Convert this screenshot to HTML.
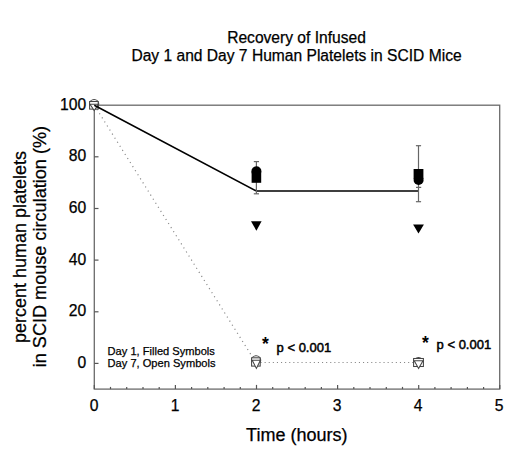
<!DOCTYPE html>
<html><head><meta charset="utf-8">
<style>
html,body{margin:0;padding:0;background:#fff;}
svg{display:block;}
text{font-family:"Liberation Sans",sans-serif;fill:#000;stroke:#000;stroke-width:0.25px;}
</style></head>
<body>
<svg width="520" height="456" viewBox="0 0 520 456">
<rect x="0" y="0" width="520" height="456" fill="#fff"/>
<!-- title -->
<text x="296.5" y="43.3" font-size="15.6" text-anchor="middle">Recovery of Infused</text>
<text x="296.5" y="60.9" font-size="15.6" text-anchor="middle">Day 1 and Day 7 Human Platelets in SCID Mice</text>

<!-- y label -->
<g transform="translate(26.0,247) rotate(-90)">
<text x="0" y="0" font-size="18" text-anchor="middle">percent human platelets</text>
</g>
<g transform="translate(46.3,246.6) rotate(-90)">
<text x="0" y="0" font-size="18.1" text-anchor="middle">in SCID mouse circulation (%)</text>
</g>

<!-- frame -->
<rect x="94.3" y="105.2" width="405.4" height="283.9" fill="none" stroke="#6a6a6a" stroke-width="1.3"/>

<!-- y ticks -->
<g stroke="#555" stroke-width="1.2">
<line x1="94.3" y1="105.2" x2="98.5" y2="105.2"/>
<line x1="94.3" y1="156.8" x2="98.5" y2="156.8"/>
<line x1="94.3" y1="208.5" x2="98.5" y2="208.5"/>
<line x1="94.3" y1="260.1" x2="98.5" y2="260.1"/>
<line x1="94.3" y1="311.8" x2="98.5" y2="311.8"/>
<line x1="94.3" y1="363.4" x2="98.5" y2="363.4"/>
</g>
<g font-size="15.7" text-anchor="end">
<text x="86.2" y="109.9">100</text>
<text x="86.2" y="161.4">80</text>
<text x="86.2" y="212.9">60</text>
<text x="86.2" y="264.6">40</text>
<text x="86.2" y="316.3">20</text>
<text x="86.2" y="367.9">0</text>
</g>

<!-- x ticks -->
<g stroke="#555" stroke-width="1.2">
<line x1="94.3" y1="389.1" x2="94.3" y2="384.9"/>
<line x1="110.5" y1="389.1" x2="110.5" y2="386.9"/>
<line x1="126.7" y1="389.1" x2="126.7" y2="386.9"/>
<line x1="143.0" y1="389.1" x2="143.0" y2="386.9"/>
<line x1="159.2" y1="389.1" x2="159.2" y2="386.9"/>
<line x1="175.4" y1="389.1" x2="175.4" y2="384.9"/>
<line x1="191.6" y1="389.1" x2="191.6" y2="386.9"/>
<line x1="207.8" y1="389.1" x2="207.8" y2="386.9"/>
<line x1="224.1" y1="389.1" x2="224.1" y2="386.9"/>
<line x1="240.3" y1="389.1" x2="240.3" y2="386.9"/>
<line x1="256.5" y1="389.1" x2="256.5" y2="384.9"/>
<line x1="272.7" y1="389.1" x2="272.7" y2="386.9"/>
<line x1="288.9" y1="389.1" x2="288.9" y2="386.9"/>
<line x1="305.2" y1="389.1" x2="305.2" y2="386.9"/>
<line x1="321.4" y1="389.1" x2="321.4" y2="386.9"/>
<line x1="337.6" y1="389.1" x2="337.6" y2="384.9"/>
<line x1="353.8" y1="389.1" x2="353.8" y2="386.9"/>
<line x1="370.0" y1="389.1" x2="370.0" y2="386.9"/>
<line x1="386.3" y1="389.1" x2="386.3" y2="386.9"/>
<line x1="402.5" y1="389.1" x2="402.5" y2="386.9"/>
<line x1="418.7" y1="389.1" x2="418.7" y2="384.9"/>
<line x1="434.9" y1="389.1" x2="434.9" y2="386.9"/>
<line x1="451.1" y1="389.1" x2="451.1" y2="386.9"/>
<line x1="467.4" y1="389.1" x2="467.4" y2="386.9"/>
<line x1="483.6" y1="389.1" x2="483.6" y2="386.9"/>
<line x1="499.8" y1="389.1" x2="499.8" y2="384.9"/>
</g>
<g font-size="15.7" text-anchor="middle">
<text x="94" y="411">0</text>
<text x="175" y="411">1</text>
<text x="256" y="411">2</text>
<text x="337" y="411">3</text>
<text x="418" y="411">4</text>
<text x="499" y="411">5</text>
</g>
<text x="296.8" y="441" font-size="18" text-anchor="middle">Time (hours)</text>

<!-- dotted line day 7 -->
<line x1="94.3" y1="105.2" x2="256.4" y2="363.4" stroke="#888" stroke-width="1.2" stroke-dasharray="1.1 3.7"/>
<line x1="256.4" y1="362.5" x2="418.4" y2="362.5" stroke="#888" stroke-width="1.2" stroke-dasharray="1.1 3"/>

<!-- open symbols -->
<g fill="#fff" stroke="#444" stroke-width="1.05">
<circle cx="94.1" cy="104.1" r="4.6"/>
<rect x="89.6" y="101.5" width="8.6" height="7.6"/>
<path d="M90,104.2 L98.4,104.2 L94.2,110.6 Z"/>
<circle cx="256.1" cy="360.3" r="4.6"/>
<rect x="251.6" y="357.8" width="8.6" height="8.3"/>
<path d="M252.2,360.3 L260.4,360.3 L256.4,368.4 Z"/>
<circle cx="418.5" cy="362" r="4.6"/>
<rect x="413.6" y="358.5" width="9.8" height="8"/>
<path d="M414.2,360.8 L423,360.8 L418.6,368.5 Z"/>
</g>

<!-- solid line day 1 -->
<polyline points="94.3,105.2 256.4,191 418.6,191" fill="none" stroke="#000" stroke-width="1.55" stroke-linejoin="miter"/>

<!-- error bars -->
<g stroke="#666" stroke-width="1.2">
<line x1="256.4" y1="161.6" x2="256.4" y2="193.8"/>
<line x1="253.8" y1="161.6" x2="259" y2="161.6"/>
<line x1="253.8" y1="193.8" x2="259" y2="193.8"/>
<line x1="418.5" y1="145.7" x2="418.5" y2="201.7"/>
<line x1="415.9" y1="145.7" x2="421.1" y2="145.7"/>
<line x1="415.9" y1="201.7" x2="421.1" y2="201.7"/>
<line x1="416" y1="187.4" x2="421.2" y2="187.4"/>
</g>
<!-- filled symbols -->
<g fill="#000">
<circle cx="256.4" cy="171.2" r="5"/>
<rect x="251.6" y="172" width="9.6" height="10.8"/>
<rect x="413.6" y="169" width="9.8" height="10"/>
<circle cx="418.6" cy="180" r="5"/>
<path d="M251,221.2 L261.6,221.2 L256.4,230.8 Z"/>
<path d="M413.1,224.4 L423.9,224.4 L418.5,233.6 Z"/>
</g>

<!-- legend -->
<text x="107.6" y="354.6" font-size="11.1">Day 1, Filled Symbols</text>
<text x="107.6" y="366.9" font-size="11.1">Day 7, Open Symbols</text>

<!-- significance -->
<g>
<text x="262.1" y="350.4" font-size="17.5" font-weight="bold" style="stroke-width:0">*</text>
<text x="276.6" y="351.8" font-size="13" style="stroke-width:0.5px">p &lt; 0.001</text>
<text x="421.9" y="348.9" font-size="17.5" font-weight="bold" style="stroke-width:0">*</text>
<text x="436.6" y="349.4" font-size="13" style="stroke-width:0.5px">p &lt; 0.001</text>
</g>
</svg>
</body></html>
